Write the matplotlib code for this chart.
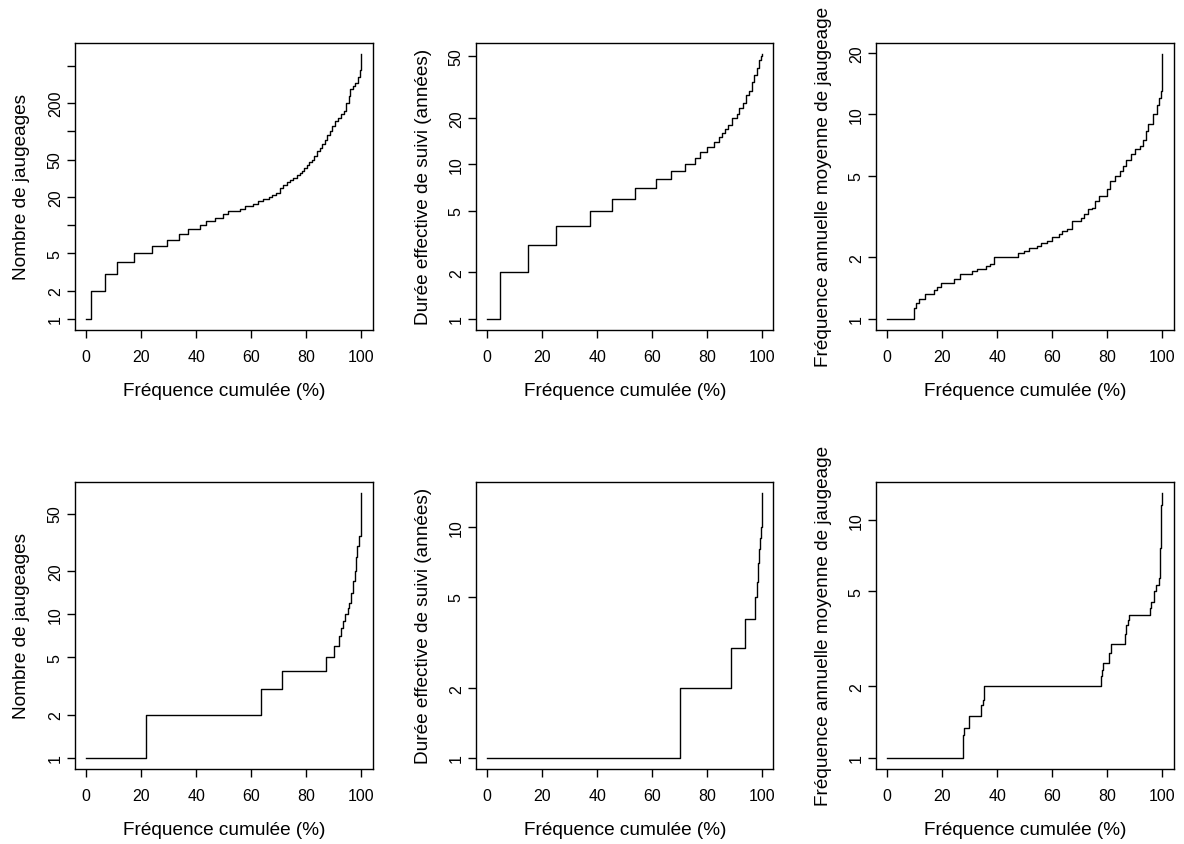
import numpy as np
import matplotlib
matplotlib.use("Agg")
import matplotlib.pyplot as plt
from matplotlib.ticker import NullLocator, FixedLocator, FixedFormatter

plt.rcParams['font.family'] = ['Liberation Sans', 'DejaVu Sans']

# ---------------- data (cumulative frequency %, value) ----------------
# Top row
nb_top_x = [0, 1.8, 6.9, 11.1, 17.4, 23.8, 29.4, 33.8, 37.2, 41.2,
            43.5, 46.7, 49.6, 51.6, 56.0, 57.8, 60.7, 62.6, 64.4, 66.3,
            67.6, 69.0, 70.5, 71.4, 72.8, 74.1, 75.3, 76.5, 77.5, 78.4,
            79.3, 80.2, 81.1, 82.0, 82.9, 83.8, 84.8, 85.7, 86.6, 87.5,
            88.4, 89.3, 90.3, 91.4, 92.5, 93.6, 94.5, 95.4, 96.0, 96.9,
            97.8, 98.6, 99.3, 99.6, 100]
nb_top_y = [1, 2, 3, 4, 5, 6, 7, 8, 9, 10,
            11, 12, 13, 14, 15, 16, 17, 18, 19, 20,
            21, 22, 25, 27, 28.5, 30, 32, 34, 36, 38,
            41, 44, 47, 50, 55, 62, 67, 73, 81, 91,
            102, 114, 129, 140, 152, 165, 200, 238, 281, 305,
            331, 380, 423, 452, 675]

duree_top_x = [0, 4.8, 14.8, 25.2, 37.3, 45.5, 53.8, 61.2, 66.9, 72.0,
               75.6, 77.4, 79.7, 82.5, 84.2, 85.3, 86.5, 87.5, 88.9, 90.6,
               91.5, 93.0, 94.0, 95.2, 96.3, 97.0, 98.0, 98.9, 99.5, 100]
duree_top_y = [1, 2, 3, 4, 5, 6, 7, 8, 9, 10,
               11, 12, 13, 14, 15, 16, 17, 18, 20, 21,
               23, 25, 28, 30, 34, 38, 42, 47, 50, 52]

freq_top_x = [0, 9.7, 10.5, 11.5, 13.8, 16.9, 18.1, 19.5, 24.4, 26.6,
              31.0, 32.8, 35.8, 37.4, 39.0, 47.6, 49.6, 51.6, 54.5, 56.0,
              58.0, 60.0, 62.5, 63.7, 65.5, 67.3, 70.3, 71.5, 73.0, 74.5,
              75.5, 77.0, 79.8, 81.0, 82.8, 84.6, 85.8, 86.8, 88.5, 90.1,
              91.9, 93.1, 94.0, 94.9, 96.7, 97.9, 98.9, 99.4, 100]
freq_top_y = [1, 1.13, 1.19, 1.25, 1.33, 1.39, 1.43, 1.5, 1.57, 1.65,
              1.72, 1.75, 1.82, 1.86, 2.0, 2.1, 2.15, 2.22, 2.27, 2.35,
              2.4, 2.52, 2.6, 2.69, 2.75, 3.0, 3.1, 3.24, 3.43, 3.5,
              3.77, 3.98, 4.3, 4.7, 5.0, 5.3, 5.6, 6.0, 6.4, 6.8,
              7.0, 7.5, 8.3, 9.0, 10.0, 11.07, 12.0, 13.0, 19.8]

# Bottom row
nb_bot_x = [0, 21.6, 63.4, 71.3, 87.1, 90.1, 91.8, 92.5, 93.4, 94.0,
            95.0, 95.6, 96.2, 96.9, 97.5, 98.0, 98.5, 99.1, 99.7, 100]
nb_bot_y = [1, 2, 3, 4, 5, 6, 7, 8, 9, 10,
            11, 12, 14, 17, 20, 25, 30, 35, 45, 70]

duree_bot_x = [0, 70.1, 88.5, 93.6, 97.4, 97.9, 98.5, 98.8, 99.2, 99.4, 99.7, 100]
duree_bot_y = [1, 2, 3, 4, 5, 5.8, 7, 8, 9, 10, 11, 14.1]

freq_bot_x = [0, 27.6, 27.9, 29.9, 34.1, 34.8, 35.2, 77.7, 78.0, 78.3,
              80.7, 81.2, 86.3, 86.8, 87.4, 88.0, 95.5, 96.0, 97.0, 97.6,
              98.6, 99.0, 99.2, 99.4, 99.5, 99.8, 100]
freq_bot_y = [1, 1.25, 1.33, 1.5, 1.67, 1.75, 2.0, 2.2, 2.35, 2.5,
              2.75, 3.0, 3.3, 3.6, 3.8, 4.0, 4.25, 4.5, 5.0, 5.3,
              5.7, 6.0, 7.6, 10, 11.5, 12.5, 13.0]

x_ticks = [0, 20, 40, 60, 80, 100]
xlabel = "Fréquence cumulée (%)"
ylab_nb = "Nombre de jaugeages"
ylab_duree = "Durée effective de suivi (années)"
ylab_freq = "Fréquence annuelle moyenne de jaugeage"

yt_nb_top = [1, 2, 5, 10, 20, 50, 100, 200, 500]
yl_nb_top = ['1', '2', '5', '', '20', '50', '', '200', '']
yt_duree_top = [1, 2, 5, 10, 20, 50]
yt_freq_top = [1, 2, 5, 10, 20]
yt_nb_bot = [1, 2, 5, 10, 20, 50]
yt_duree_bot = [1, 2, 5, 10]
yt_freq_bot = [1, 2, 5, 10]

panels = [
    (nb_top_x, nb_top_y, ylab_nb, yt_nb_top, yl_nb_top),
    (duree_top_x, duree_top_y, ylab_duree, yt_duree_top, None),
    (freq_top_x, freq_top_y, ylab_freq, yt_freq_top, None),
    (nb_bot_x, nb_bot_y, ylab_nb, yt_nb_bot, None),
    (duree_bot_x, duree_bot_y, ylab_duree, yt_duree_bot, None),
    (freq_bot_x, freq_bot_y, ylab_freq, yt_freq_bot, None),
]

# ---------------- layout ----------------
W, H = 1184, 845
fig = plt.figure(figsize=(W / 100, H / 100), dpi=100)
fig.patch.set_facecolor('white')

lefts = [75, 476, 876]
tops = [44, 483]
bw, bh = 297.5, 286.5

for i, (xs, ys, ylab, yt, yl) in enumerate(panels):
    r, c = divmod(i, 3)
    ax = fig.add_axes([lefts[c] / W, 1 - (tops[r] + bh) / H, bw / W, bh / H])
    ax.step(xs, ys, where='post', color='black', lw=1.0)
    ax.set_yscale('log')
    # R-style 4% padding
    ax.set_xlim(-4, 104)
    lo, hi = np.log10(min(ys)), np.log10(max(ys))
    pad = 0.04 * (hi - lo)
    ax.set_ylim(10 ** (lo - pad), 10 ** (hi + pad))

    ax.xaxis.set_major_locator(FixedLocator(x_ticks))
    ax.xaxis.set_major_formatter(FixedFormatter([str(t) for t in x_ticks]))
    ax.yaxis.set_major_locator(FixedLocator(yt))
    ax.yaxis.set_minor_locator(NullLocator())
    ax.yaxis.set_major_formatter(FixedFormatter(yl if yl else [str(t) for t in yt]))

    for s in ax.spines.values():
        s.set_linewidth(1.0)
        s.set_color('black')
    ax.tick_params(axis='both', direction='out', length=5.8, width=1.0,
                   labelsize=11.5, colors='black')
    ax.tick_params(axis='x', pad=8.0)
    ax.tick_params(axis='y', pad=3.0, labelrotation=90)
    for lab in ax.get_yticklabels():
        lab.set_va('center')

    ax.set_xlabel(xlabel, fontsize=13.7, va='center')
    ax.xaxis.set_label_coords(0.5, -61 / bh)
    ax.set_ylabel(ylab, fontsize=13.7, va='center')
    ax.yaxis.set_label_coords(-53 / bw, 0.5)

fig.savefig('out.png', dpi=100, facecolor='white')
